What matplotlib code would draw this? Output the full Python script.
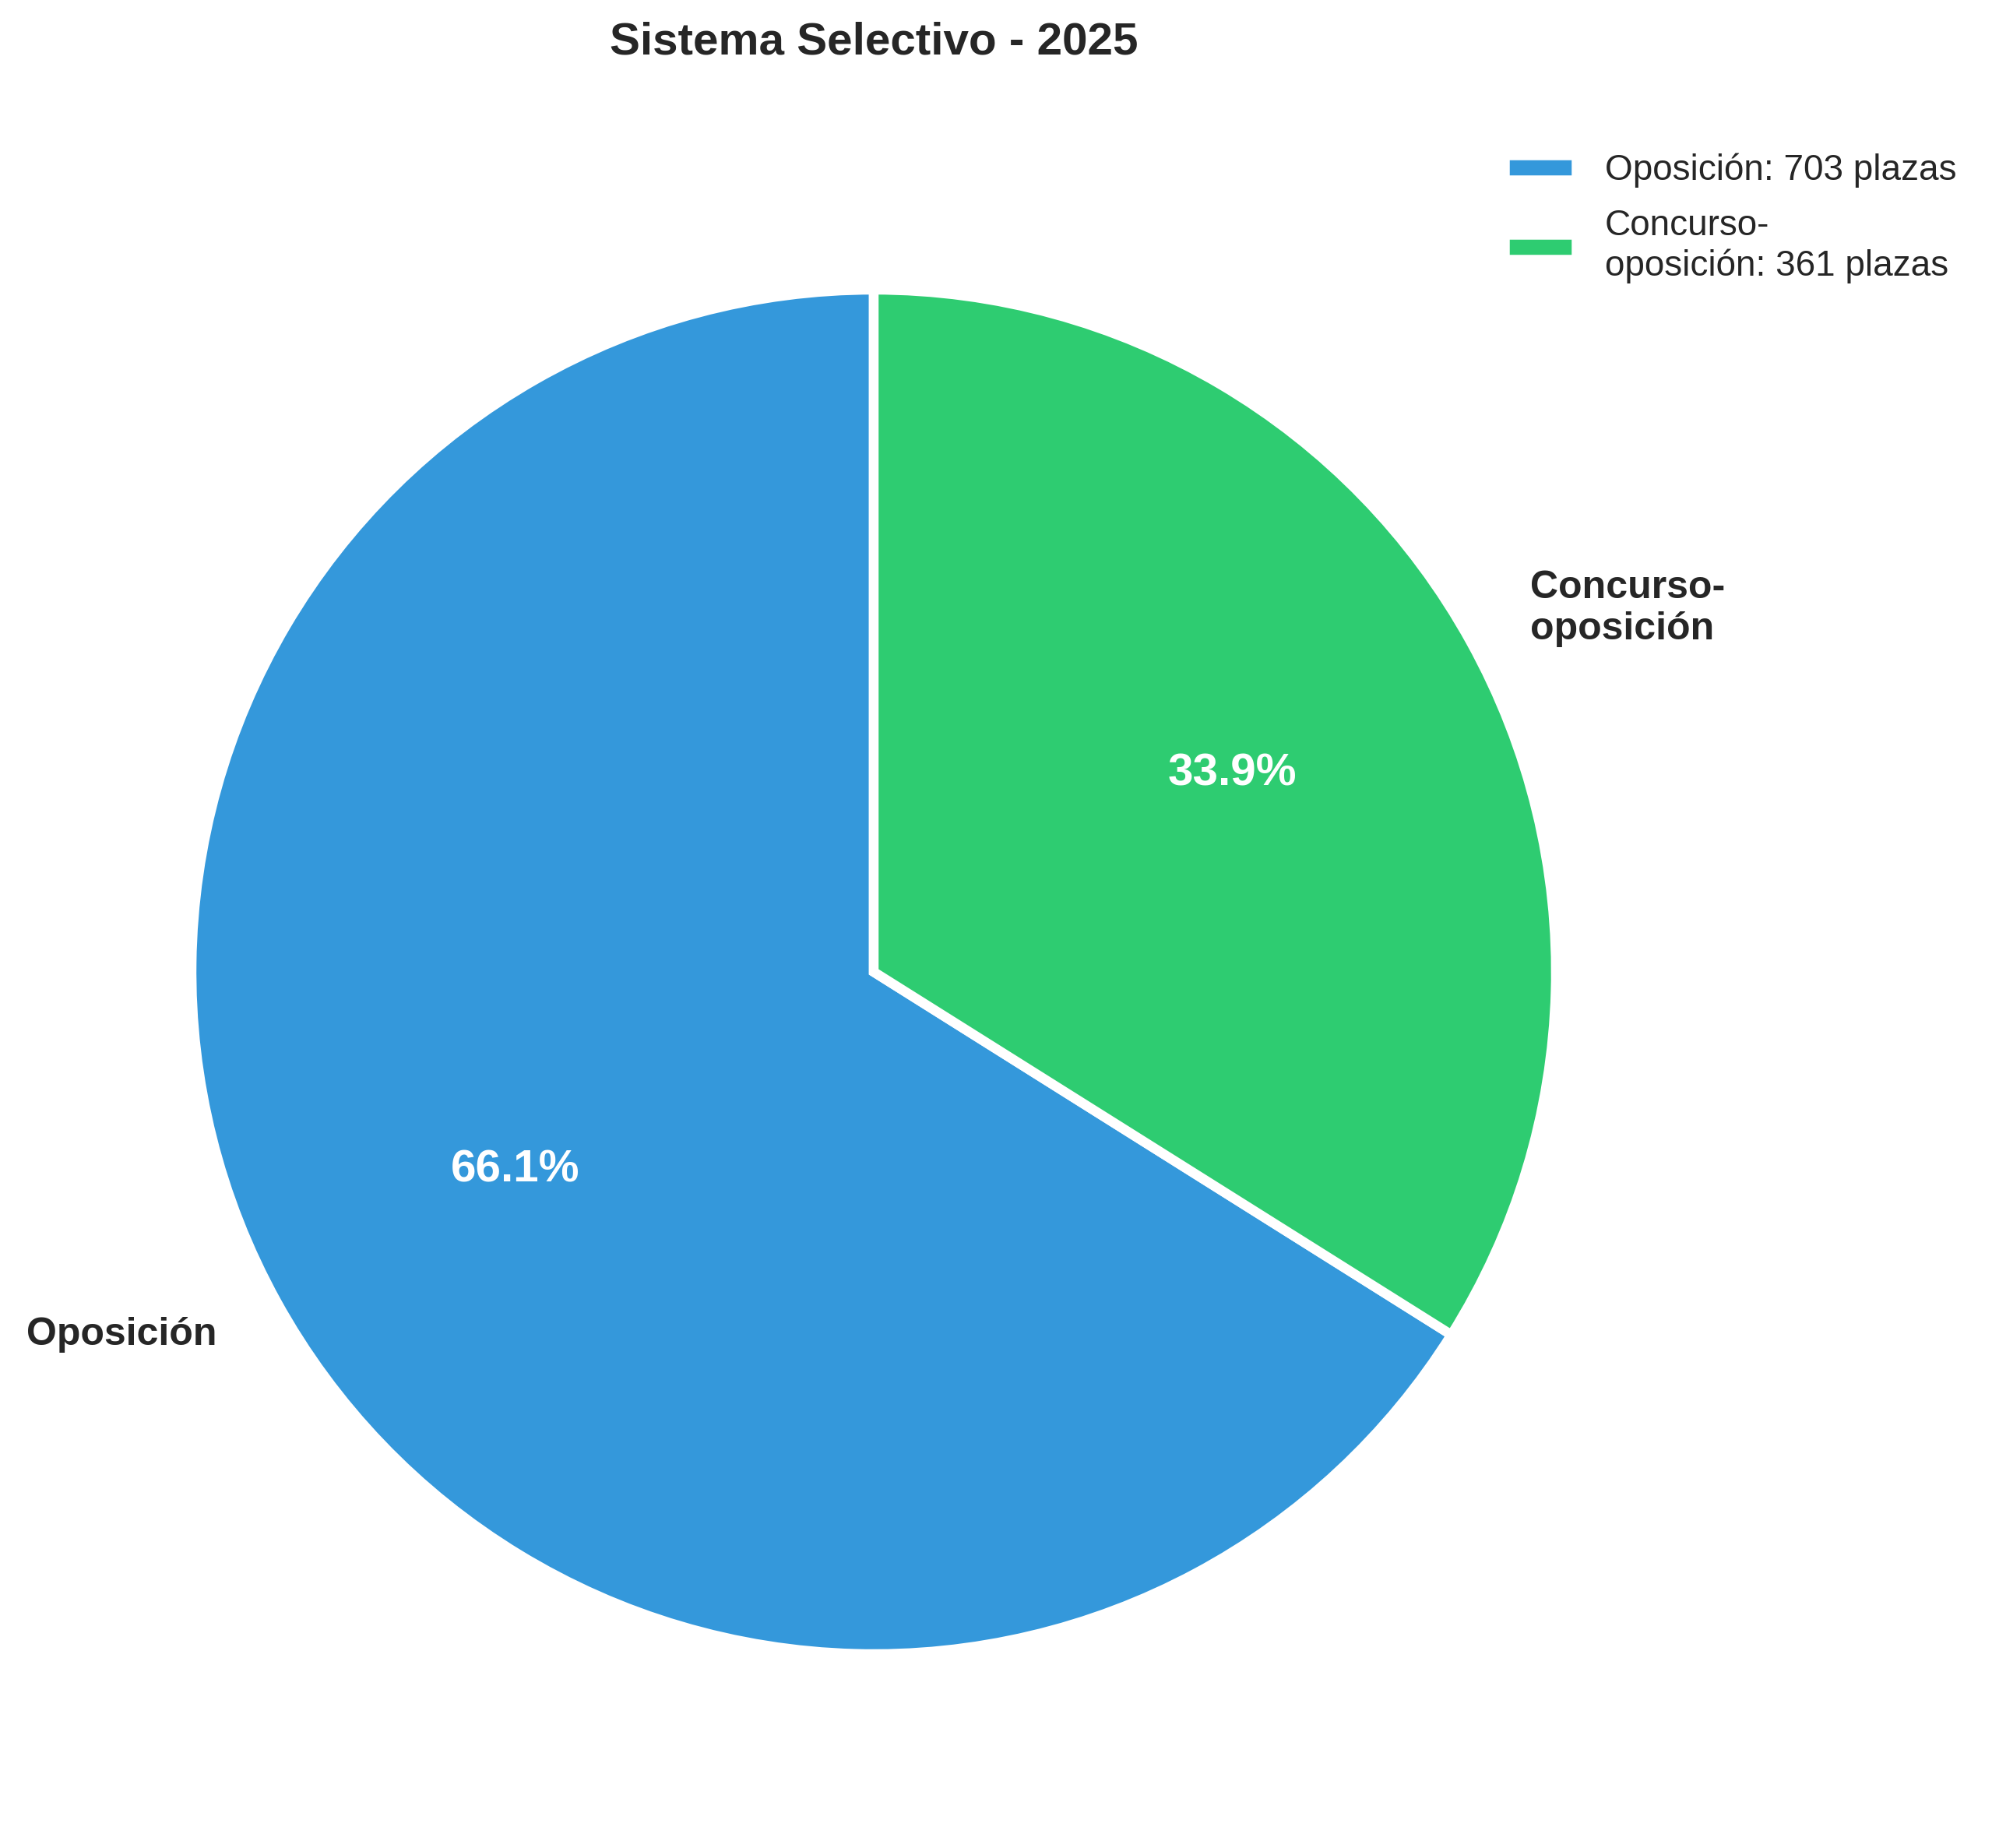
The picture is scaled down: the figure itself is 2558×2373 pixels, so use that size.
import matplotlib
matplotlib.use("Agg")
import matplotlib.pyplot as plt

categories = ["Oposición", "Concurso-\noposición"]
values = [703, 361]
legend_labels = ["Oposición: 703 plazas", "Concurso-\noposición: 361 plazas"]
colors = ["#3498db", "#2ecc71"]
title = "Sistema Selectivo - 2025"

plt.rcParams['font.family'] = ['Liberation Sans', 'DejaVu Sans']
text_color = "#262626"

W, H, DPI = 2558, 2373, 300
fig = plt.figure(figsize=(W / DPI, H / DPI), dpi=DPI)
R = 876
cx, cy = 1122, H - 1248
a = 1.2
side = 2 * a * R
ax = fig.add_axes([(cx - side / 2) / W, (cy - side / 2) / H, side / W, side / H])

wedges, texts, autotexts = ax.pie(
    values, labels=categories, colors=colors, startangle=90,
    autopct='%1.1f%%', pctdistance=0.6, labeldistance=1.1,
    wedgeprops=dict(edgecolor='white', linewidth=3),
    textprops=dict(fontsize=12, fontweight='bold', color=text_color),
)
for t in autotexts:
    t.set_color('white')
    t.set_fontsize(14)
ax.set_xlim(-a, a)
ax.set_ylim(-a, a)
ax.set_aspect('equal')
ax.axis('off')

fig.text(cx / W, 1 - 54 / H, title, ha='center', va='center', fontsize=14,
         fontweight='bold', color=text_color)

leg = fig.legend(wedges, legend_labels, loc='upper left',
                 bbox_to_anchor=(1891 / W, 1 - 155 / H), frameon=False,
                 prop=dict(size=11), labelspacing=0.6)
for t in leg.get_texts():
    t.set_color(text_color)

fig.savefig("out.png", dpi=DPI, facecolor='white')
